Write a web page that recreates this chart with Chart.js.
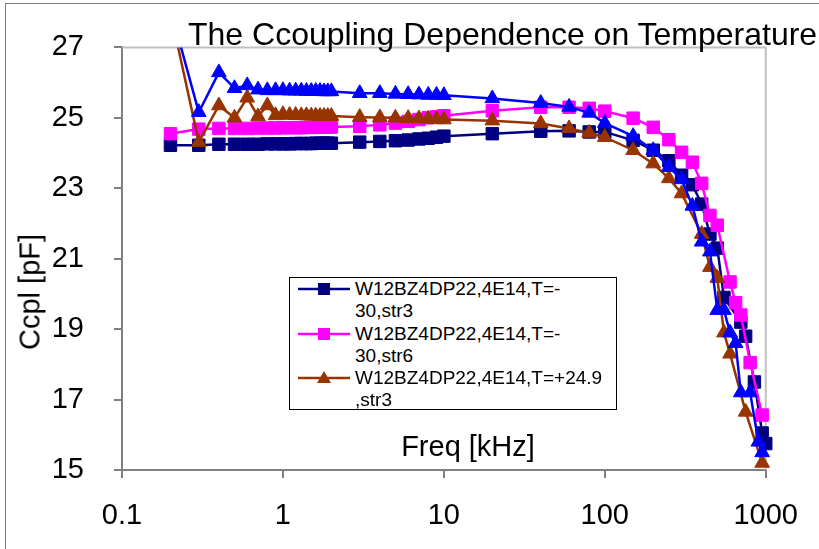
<!DOCTYPE html>
<html lang="en">
<head>
<meta charset="UTF-8" />
<title>The Ccoupling Dependence on Temperature</title>
<style>
  body {
    margin: 0;
    padding: 0;
    background: #fff;
    font-family: "Liberation Sans", Arial, sans-serif;
  }

  .frame {
    position: relative;
    width: 819px;
    height: 549px;
    overflow: hidden;
  }

  .outer-border {
    position: absolute;
    left: 5px;
    top: 3px;
    width: 900px;
    height: 700px;
    border: 1px solid #808080;
  }

  #chart {
    position: absolute;
    left: 0;
    top: 0;
  }

  .chart-title {
    position: absolute;
    left: 188px;
    top: 18px;
    font-size: 32px;
    line-height: 32px;
    white-space: nowrap;
    color: #000;
  }

  .x-title {
    position: absolute;
    left: 368px;
    width: 200px;
    top: 432px;
    text-align: center;
    font-size: 29px;
    line-height: 29px;
    color: #000;
  }

  .y-title {
    position: absolute;
    left: 30px;
    top: 292px;
    font-size: 29px;
    line-height: 29px;
    white-space: nowrap;
    transform: translate(-50%, -50%) rotate(-90deg);
    color: #000;
  }

  .legend {
    position: absolute;
    left: 289px;
    top: 277px;
    width: 326px;
    height: 131px;
    border: 1px solid #000;
    background: #fff;
  }

  .legend .item {
    position: absolute;
    left: 0;
    width: 326px;
  }

  .legend svg {
    position: absolute;
    left: 7px;
    top: 0;
  }

  .legend span {
    position: absolute;
    left: 65px;
    top: 0;
    font-size: 19px;
    line-height: 22.3px;
    white-space: nowrap;
    color: #000;
  }
</style>
</head>
<body>

<div class="frame">
  <div class="outer-border"></div>
  <canvas id="chart" width="819" height="549"></canvas>
  <div class="chart-title">The Ccoupling Dependence on Temperature</div>
  <div class="x-title">Freq [kHz]</div>
  <div class="y-title">Ccpl [pF]</div>

  <div class="legend">
    <div class="item" style="top:0px;">
      <svg width="56" height="22"><line x1="1" y1="11" x2="53" y2="11" stroke="#000080" stroke-width="2.5"/><rect x="21" y="5" width="12" height="12" fill="#000080"/></svg>
      <span>W12BZ4DP22,4E14,T=-<br>30,str3</span>
    </div>
    <div class="item" style="top:44.6px;">
      <svg width="56" height="22"><line x1="1" y1="11" x2="53" y2="11" stroke="#FF00FF" stroke-width="2.5"/><rect x="21" y="5" width="12" height="12" fill="#FF00FF"/></svg>
      <span>W12BZ4DP22,4E14,T=-<br>30,str6</span>
    </div>
    <div class="item" style="top:89.2px;">
      <svg width="56" height="22"><line x1="1" y1="11" x2="53" y2="11" stroke="#993300" stroke-width="2.5"/><polygon points="27,4 34,16 20,16" fill="#993300"/></svg>
      <span>W12BZ4DP22,4E14,T=+24.9<br>,str3</span>
    </div>
  </div>
</div>

<script src="https://cdn.jsdelivr.net/npm/chart.js"></script>
<script>
// frequencies in kHz (shared by all series, null = no point for that series)
const freqs = [
  0.2, 0.3, 0.4, 0.5, 0.6, 0.7, 0.8, 0.9, 1.0, 1.1, 1.2, 1.3, 1.4, 1.5, 1.6, 1.7, 1.8, 1.9, 2.0,
  3, 4, 5, 6, 7, 8, 9, 10,
  20, 40, 60, 80, 100,
  150, 200, 250, 300, 350, 400, 450, 500, 550, 600, 650, 700, 750, 800, 850, 900, 950, 1000
];

// W12BZ4DP22,4E14,T=-30,str3
const ccplM30Str3 = [
  24.22, 24.22, 24.25, 24.25, 24.25, 24.25, 24.26, 24.26, 24.26, 24.26, 24.27, 24.27, 24.27, 24.27, 24.28, 24.28, 24.28, 24.28, 24.28,
  24.31, 24.33, 24.35, 24.37, 24.40, 24.42, 24.45, 24.48,
  24.55, 24.62, 24.63, 24.60, 24.60,
  24.36, 24.08, 23.78, 23.37, 23.10, 22.55, 21.70, 21.30, 19.90, null, null, 19.20, 18.80, null, 17.50, null, 16.05, 15.75
];

// W12BZ4DP22,4E14,T=-30,str6
const ccplM30Str6 = [
  24.55, 24.68, 24.70, 24.70, 24.70, 24.71, 24.71, 24.71, 24.72, 24.72, 24.72, 24.72, 24.73, 24.73, 24.73, 24.73, 24.74, 24.74, 24.74,
  24.76, 24.80, 24.85, 24.90, 24.95, 25.00, 25.03, 25.06,
  25.20, 25.30, 25.30, 25.27, 25.19,
  24.99, 24.73, 24.38, 24.02, 23.74, 23.14, 22.23, 21.95, null, 20.34, 19.75, 19.40, null, 18.05, null, null, 16.56, null
];

// W12BZ4DP22,4E14,T=+24.9,str3
const ccplP249Str3 = [
  28.0, 24.31, 25.35, 25.00, 25.57, 25.04, 25.35, 25.07, 25.10, 25.08, 25.08, 25.07, 25.07, 25.06, 25.06, 25.05, 25.05, 25.05, 25.05,
  25.02, 25.01, 25.00, 24.99, 24.98, 24.97, 24.96, 24.95,
  24.92, 24.84, 24.70, 24.57, 24.45,
  24.08, 23.70, 23.28, 22.85, null, 21.70, 20.76, 20.45, 18.90, 18.30, null, null, 16.65, null, null, null, 15.20, null
];

// fourth series (blue triangles, not in legend)
const ccplBlueTri = [
  28.1, 25.16, 26.29, 25.84, 25.92, 25.80, 25.78, 25.78, 25.78, 25.77, 25.77, 25.77, 25.76, 25.76, 25.76, 25.76, 25.75, 25.75, 25.75,
  25.70, 25.70, 25.68, 25.67, 25.66, 25.65, 25.65, 25.64,
  25.55, 25.42, 25.31, 25.14, 24.85,
  24.48, 24.08, 23.60, 23.25, 22.50, 21.48, 21.20, 19.54, 19.54, 18.90, 18.60, 17.20, null, 17.20, null, 15.80, 15.50, null
];

const xTickValues = [0.1, 1, 10, 100, 1000];
const xTickLabels = ['0.1', '1', '10', '100', '1000'];
const yMin = 15, yMax = 27, yStep = 2;

const toPoints = vals => freqs.map((f, i) => ({ x: f, y: vals[i] }));

const makeSet = (label, vals, color, style, order) => ({
  label,
  data: toPoints(vals),
  showLine: true,
  borderColor: color,
  backgroundColor: color,
  borderWidth: 2.5,
  pointStyle: style,
  pointRadius: style === 'rect' ? 8.8 : 8.5,
  pointBorderWidth: 1,
  pointBackgroundColor: color,
  pointBorderColor: color,
  spanGaps: true,
  tension: 0,
  order,
  clip: { left: false, top: 0, right: false, bottom: false }
});

// top and right edge of the plot area (light grey)
const plotFrame = {
  id: 'plotFrame',
  beforeDatasetsDraw(chart) {
    const { ctx, chartArea: a } = chart;
    ctx.save();
    ctx.strokeStyle = '#c0c0c0';
    ctx.lineWidth = 2;
    ctx.beginPath();
    ctx.moveTo(a.left, a.top);
    ctx.lineTo(a.right, a.top);
    ctx.lineTo(a.right, a.bottom);
    ctx.stroke();
    ctx.restore();
  }
};

Chart.defaults.font.family = '"Liberation Sans", Arial, sans-serif';

new Chart(document.getElementById('chart').getContext('2d'), {
  type: 'scatter',
  data: {
    datasets: [
      makeSet('W12BZ4DP22,4E14,T=-30,str3', ccplM30Str3, '#000080', 'rect', 3),
      makeSet('W12BZ4DP22,4E14,T=-30,str6', ccplM30Str6, '#FF00FF', 'rect', 2),
      makeSet('W12BZ4DP22,4E14,T=+24.9,str3', ccplP249Str3, '#993300', 'triangle', 1),
      makeSet('', ccplBlueTri, '#0000FF', 'triangle', 0)
    ]
  },
  options: {
    responsive: false,
    animation: false,
    events: [],
    devicePixelRatio: 1,
    layout: { padding: { top: 47, right: 47, left: 0, bottom: 0 } },
    plugins: {
      legend: { display: false },
      title: { display: false },
      tooltip: { enabled: false }
    },
    scales: {
      x: {
        type: 'logarithmic',
        min: 0.1,
        max: 1000,
        afterBuildTicks: s => { s.ticks = xTickValues.map(v => ({ value: v })); },
        afterFit: s => { s.height = 79; },
        border: { display: true, color: '#808080', width: 2 },
        grid: { display: true, drawOnChartArea: false, drawTicks: true, tickLength: 8, color: '#808080', lineWidth: 2 },
        ticks: {
          autoSkip: false,
          maxRotation: 0,
          padding: 21,
          color: '#000',
          font: { size: 29 },
          callback: v => xTickLabels[xTickValues.indexOf(v)]
        }
      },
      y: {
        min: yMin,
        max: yMax,
        afterFit: s => { s.width = 122; },
        border: { display: true, color: '#808080', width: 2 },
        grid: { display: true, drawOnChartArea: false, drawTicks: true, tickLength: 8, color: '#808080', lineWidth: 2 },
        ticks: {
          stepSize: yStep,
          padding: 30,
          color: '#000',
          font: { size: 29 }
        }
      }
    }
  },
  plugins: [plotFrame]
});
</script>
</body>
</html>
